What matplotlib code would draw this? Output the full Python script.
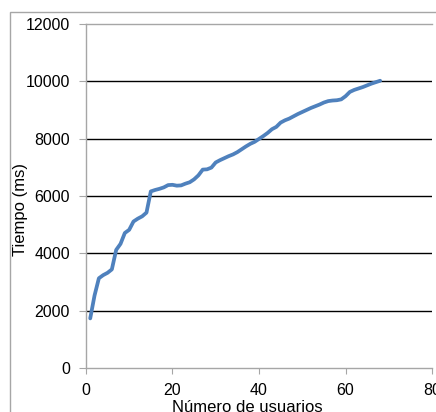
import matplotlib
matplotlib.use('Agg')
import matplotlib.pyplot as plt
from matplotlib.patches import Rectangle

# valores
usuarios = list(range(1, 69))
tiempo_ms = [1730, 2530, 3130, 3240, 3320, 3440, 4120, 4330, 4710, 4820,
             5110, 5210, 5290, 5420, 6160, 6210, 6250, 6300, 6380, 6390,
             6360, 6370, 6430, 6480, 6580, 6720, 6920, 6930, 6990, 7170,
             7250, 7320, 7390, 7450, 7530, 7630, 7730, 7820, 7890, 7990,
             8090, 8200, 8330, 8410, 8560, 8640, 8700, 8780, 8860, 8930,
             9000, 9070, 9130, 9190, 9260, 9310, 9330, 9340, 9370, 9480,
             9630, 9700, 9750, 9800, 9860, 9920, 9970, 10020]
yticks = [0, 2000, 4000, 6000, 8000, 10000, 12000]
xticks = [0, 20, 40, 60, 80]

plt.rcParams['font.family'] = ['Liberation Sans', 'DejaVu Sans']

gris = '#a6a6a6'
fig = plt.figure(figsize=(4.36, 4.12), dpi=100)
ax = fig.add_axes([0.197, 0.1068, 0.794, 0.835])

# borde exterior del grafico (se sale por la derecha y abajo)
fig.patches.append(Rectangle((10 / 436, -0.1), 1.2, 0.9709 + 0.1, transform=fig.transFigure,
                             fill=False, edgecolor=gris, linewidth=1.0, clip_on=False))

# lineas de division
for v in yticks[1:-1]:
    ax.axhline(v, color='black', linewidth=1.0, zorder=1)

ax.plot(usuarios, tiempo_ms, color='#4f81bd', linewidth=2.7, solid_capstyle='round', zorder=3)

ax.set_xlim(0, 80)
ax.set_ylim(0, 12000)
ax.set_xticks(xticks)
ax.set_yticks(yticks)

for s in ['left', 'bottom', 'top']:
    ax.spines[s].set_color(gris)
    ax.spines[s].set_linewidth(1.0)
ax.spines['right'].set_visible(False)

ax.tick_params(axis='y', direction='out', length=5, color=gris, pad=6.5, labelsize=11.5)
ax.tick_params(axis='x', direction='out', length=4, color=gris, pad=7, labelsize=11.5)

ax.set_ylabel('Tiempo (ms)', fontsize=12)
ax.yaxis.set_label_coords(-0.168, 0.46)
ax.text(0.465, -0.092, 'Número de usuarios', transform=ax.transAxes, ha='center', va='top',
        fontsize=12, clip_on=False)

plt.savefig('out.png', dpi=100)
